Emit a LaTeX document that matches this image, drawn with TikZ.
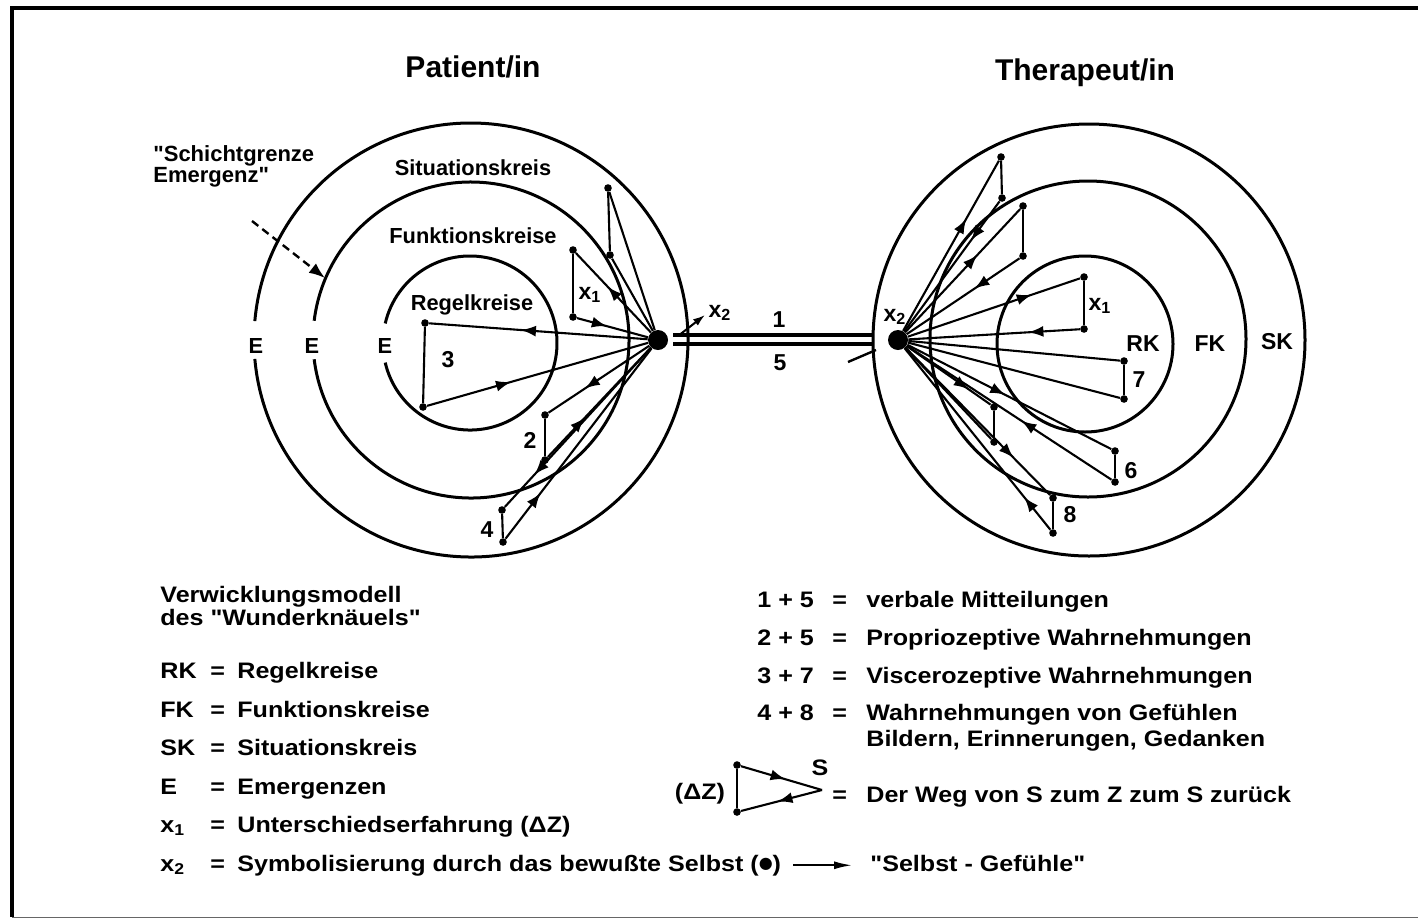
\documentclass[tikz,border=0pt]{standalone}
\usepackage{fontspec}
\setmainfont{Liberation Sans}
\newfontfamily\diafont{Liberation Sans}
\newfontfamily\widefont{Liberation Sans}[FakeStretch=1.12]
\newfontfamily\symfont{DejaVu Sans}
\usetikzlibrary{arrows.meta,decorations.markings}

\tikzset{
  ring/.style={line width=1.5pt},
  ray/.style={line width=1.05pt},
  vtx/.style={circle,fill,inner sep=0pt,minimum size=3.8pt},
  self/.style={circle,fill,inner sep=0pt,minimum size=10pt},
  lbl/.style={font=\diafont\bfseries\fontsize{10.9}{12}\selectfont,inner sep=0pt,anchor=base},
  num/.style={font=\diafont\bfseries\fontsize{11.5}{12}\selectfont,inner sep=0pt},
  headline/.style={font=\diafont\bfseries\fontsize{15}{17}\selectfont,inner sep=0pt,anchor=base},
  leg/.style={font=\widefont\bfseries\fontsize{11.2}{13.5}\selectfont,inner sep=0pt,anchor=base west},
  midarr/.style={postaction={decorate},decoration={markings,
    mark=at position #1 with {\arrow{Latex[length=7.5pt,width=5.5pt]}}}}
}

\begin{document}
\begin{tikzpicture}[x=0.5pt,y=-0.5pt,>=Latex]
\useasboundingbox (0,0) rectangle (1418,922);
% frame
\draw[line width=1.6pt] (1418,8) -- (12,8) -- (12,917);
\draw[line width=0.5pt,black!60] (12,917) -- (1418,917);

% titles
\node[headline] (pat) at (473,77) {Patient/in};
\node[headline] (ther) at (1085,80) {Therapeut/in};

% patient rings, open at the E marks
\coordinate (pc) at (471,340);
\coordinate (pi) at (470,343);
\draw[ring] (pc) ++(185:217) arc[start angle=185,end angle=535,radius=217];
\draw[ring] (pc) ++(187:158) arc[start angle=187,end angle=533,radius=158];
\draw[ring] (pi) ++(193:87) arc[start angle=193,end angle=527,radius=87];
\node[lbl] (e1) at (256,353) {E};
\node[lbl] (e2) at (312,353) {E};
\node[lbl] (e3) at (385,353) {E};
\node[lbl] (sk) at (473,175) {Situationskreis};
\node[lbl] (fk) at (473,243) {Funktionskreise};
\node[lbl] (rk) at (472,310) {Regelkreise};

% Schichtgrenze
\node[lbl,anchor=base west,align=left,font=\diafont\bfseries\fontsize{11}{10.5}\selectfont] (sg) at (153,182) {"Schichtgrenze\\Emergenz"};
\coordinate (sga) at (252,221);
\coordinate (sgb) at (325,278);
\draw[-{Latex[length=8pt,width=6pt]},line width=1.2pt,dash pattern=on 4pt off 2.5pt] (sga) -- (sgb);

% therapist rings
\coordinate (tc) at (1089,340);
\draw[ring] (tc) circle[radius=216];
\draw[ring] (1088,339) circle[radius=158];
\draw[ring] (1085,344) circle[radius=88];
\node[num] (trk) at (1143,344) {RK};
\node[num] (tfk) at (1210,344) {FK};
\node[num] (tsk) at (1277,342) {SK};

% patient self and loops
\node[self] (L) at (658,340) {};
\node[vtx] (pa1) at (608,188) {};
\node[vtx] (pa2) at (610,255) {};
\node[vtx] (px1) at (573,250) {};
\node[vtx] (px2) at (573,317) {};
\node[vtx] (p31) at (425,323) {};
\node[vtx] (p32) at (423,407) {};
\node[vtx] (p21) at (545,415) {};
\node[vtx] (p22) at (545,460) {};
\node[vtx] (p41) at (502,510) {};
\node[vtx] (p42) at (503,542) {};

\draw[ray] (pa1) -- (pa2);
\draw[ray] (L) -- (pa1);
\draw[ray] (pa2) -- (L);
\draw[ray] (px1) -- (px2);
\draw[ray,midarr=0.58] (L) -- (px1);
\draw[ray,midarr=0.42] (px2) -- (L);
\draw[ray] (p31) -- (p32);
\draw[ray,midarr=0.58] (L) -- (p31);
\draw[ray,midarr=0.38] (p32) -- (L);
\draw[ray] (p21) -- (p22);
\draw[ray,midarr=0.64] (L) -- (p21);
\draw[ray,midarr=0.36] (p22) -- (L);
\draw[ray] (p41) -- (p42);
\draw[ray,midarr=0.8] (L) -- (p41);
\draw[ray,midarr=0.24] (p42) -- (L);

\node[num] (lx1) at (590,295) {x\textsubscript{1}};
\node[num] (l3) at (448,360) {3};
\node[num] (l2) at (530,440) {2};
\node[num] (l4) at (487,530) {4};

% therapist self and loops
\node[self] (R) at (898,340) {};
\node[vtx] (ta1) at (1001,157) {};
\node[vtx] (ta2) at (1002,198) {};
\node[vtx] (tb1) at (1023,206) {};
\node[vtx] (tb2) at (1023,256) {};
\node[vtx] (tx1) at (1084,277) {};
\node[vtx] (tx2) at (1084,329) {};
\node[vtx] (t71) at (1124,361) {};
\node[vtx] (t72) at (1124,399) {};
\node[vtx] (tm1) at (994,407) {};
\node[vtx] (tm2) at (994,442) {};
\node[vtx] (t61) at (1115,451) {};
\node[vtx] (t62) at (1115,482) {};
\node[vtx] (t81) at (1053,498) {};
\node[vtx] (t82) at (1053,533) {};

\draw[ray] (ta1) -- (ta2);
\draw[ray,midarr=0.66] (R) -- (ta1);
\draw[ray,midarr=0.3] (ta2) -- (R);
\draw[ray] (tb1) -- (tb2);
\draw[ray,midarr=0.63] (R) -- (tb1);
\draw[ray,midarr=0.4] (tb2) -- (R);
\draw[ray] (tx1) -- (tx2);
\draw[ray,midarr=0.72] (R) -- (tx1);
\draw[ray,midarr=0.3] (tx2) -- (R);
\draw[ray] (t71) -- (t72);
\draw[ray] (R) -- (t71);
\draw[ray] (t72) -- (R);
\draw[ray] (tm1) -- (tm2);
\draw[ray,midarr=0.74] (R) -- (tm1);
\draw[ray] (tm2) -- (R);
\draw[ray] (t61) -- (t62);
\draw[ray,midarr=0.48] (R) -- (t61);
\draw[ray,midarr=0.44] (t62) -- (R);
\draw[ray] (t81) -- (t82);
\draw[ray,midarr=0.75] (R) -- (t81);
\draw[ray,midarr=0.18] (t82) -- (R);

\node[num] (rx1) at (1100,306) {x\textsubscript{1}};
\node[num] (r7) at (1139,380) {7};
\node[num] (r6) at (1131,471) {6};
\node[num] (r8) at (1070,515) {8};

% link between the two selves
\coordinate (ua) at (673,335);
\coordinate (ub) at (873,335);
\coordinate (la) at (673,344);
\coordinate (lb) at (873,344);
\draw[line width=1.8pt] (ua) -- (ub);
\draw[line width=1.8pt] (la) -- (lb);
\node[num] (m1) at (779,320) {1};
\node[num] (m5) at (780,363) {5};
\node[num] (lx2) at (720,313) {x\textsubscript{2}};
\node[num] (rx2) at (895,317) {x\textsubscript{2}};
\coordinate (xq) at (678,336);
\coordinate (xe) at (705,315);
\draw[-{Latex[length=6pt,width=4pt]},line width=1pt] (xq) -- (xe);
\coordinate (rs1) at (848,362);
\coordinate (rs2) at (876,350);
\draw[line width=1.2pt] (rs1) -- (rs2);

% legend left
\node[leg] (mod1) at (160,602) {Verwicklungsmodell};
\node[leg] (mod2) at (160,625) {des "Wunderknäuels"};
\node[leg] (krk) at (160,678) {RK};
\node[leg] (qrk) at (210,678) {=};
\node[leg] (drk) at (237,678) {Regelkreise};
\node[leg] (kfk) at (160,717) {FK};
\node[leg] (qfk) at (210,717) {=};
\node[leg] (dfk) at (237,717) {Funktionskreise};
\node[leg] (ksk) at (160,755) {SK};
\node[leg] (qsk) at (210,755) {=};
\node[leg] (dsk) at (237,755) {Situationskreis};
\node[leg] (ke) at (160,794) {E};
\node[leg] (qe) at (210,794) {=};
\node[leg] (de) at (237,794) {Emergenzen};
\node[leg] (kx1) at (160,832) {x\textsubscript{1}};
\node[leg] (qx1) at (210,832) {=};
\node[leg] (dx1) at (237,832) {Unterschiedserfahrung (ΔZ)};
\node[leg] (kx2) at (160,871) {x\textsubscript{2}};
\node[leg] (qx2) at (210,871) {=};
\node[leg] (dx2) at (237,871) {Symbolisierung durch das bewußte Selbst (\raisebox{1.2pt}{\symfont\fontsize{8}{8}\selectfont ●})};
\node[leg] (sgf) at (870,871) {"Selbst - Gefühle"};
\draw[-{Latex[length=9pt,width=4pt]},line width=0.9pt,shorten <=6pt,shorten >=9pt] (dx2.east) -- (sgf.west |- dx2.east);

% legend right
\node[leg] (k15) at (757,607) {1 + 5};
\node[leg] (q15) at (832,607) {=};
\node[leg] (d15) at (866,607) {verbale Mitteilungen};
\node[leg] (k25) at (757,645) {2 + 5};
\node[leg] (q25) at (832,645) {=};
\node[leg] (d25) at (866,645) {Propriozeptive Wahrnehmungen};
\node[leg] (k37) at (757,683) {3 + 7};
\node[leg] (q37) at (832,683) {=};
\node[leg] (d37) at (866,683) {Viscerozeptive Wahrnehmungen};
\node[leg] (k48) at (757,720) {4 + 8};
\node[leg] (q48) at (832,720) {=};
\node[leg] (d48) at (866,720) {Wahrnehmungen von Gefühlen};
\node[leg] (d48b) at (866,746) {Bildern, Erinnerungen, Gedanken};

% S-Z-S sign
\node[leg,anchor=center] (dz) at (700,794) {(ΔZ)};
\node[vtx] (zt) at (737,765) {};
\node[vtx] (zb) at (737,812) {};
\coordinate (zs) at (822,790);
\draw[ray,midarr=0.55] (zt) -- (zs);
\draw[ray,midarr=0.55] (zs) -- (zb);
\draw[ray] (zb) -- (zt);
\node[leg,anchor=center] (zsl) at (820,768) {S};
\node[leg] (qz) at (832,802) {=};
\node[leg] (dzz) at (866,802) {Der Weg von S zum Z zum S zurück};
\end{tikzpicture}
\end{document}
